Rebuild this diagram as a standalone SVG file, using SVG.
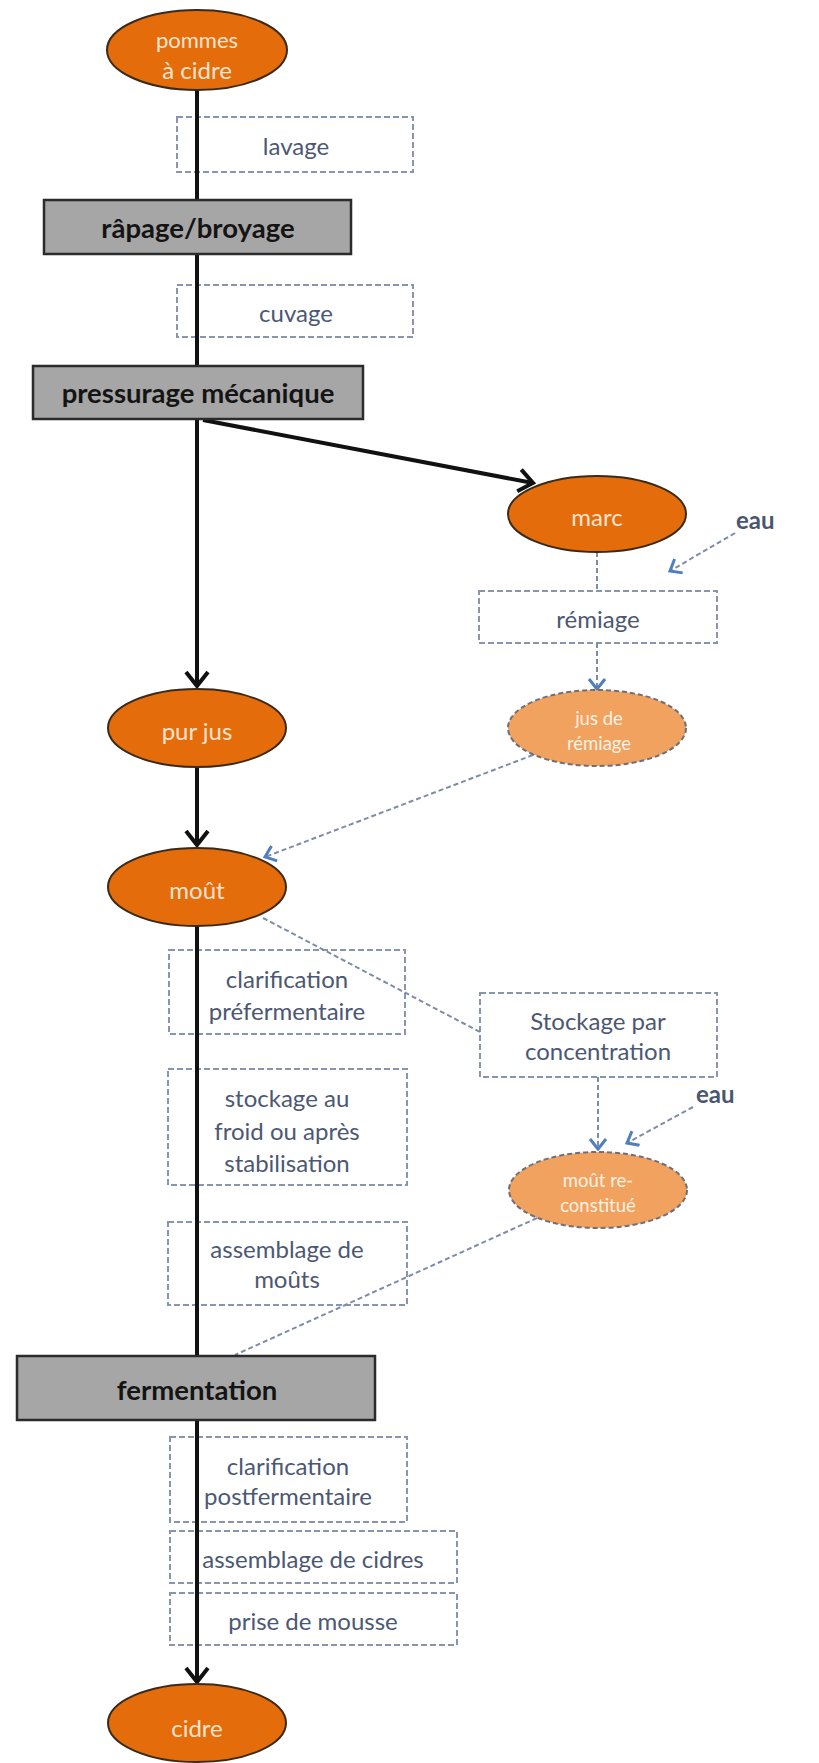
<svg xmlns="http://www.w3.org/2000/svg" width="819" height="1763" viewBox="0 0 819 1763">
<style>
.bg{fill:#ffffff}
.ell{fill:#E46C0A;stroke:#3a2a1a;stroke-width:2}
.ell-l{fill:#F1A25E;stroke:#6f6f7a;stroke-width:2;stroke-dasharray:5 3}
.step{fill:#A6A6A6;stroke:#2b2b2b;stroke-width:2.5}
.op{fill:none;stroke:#8795B0;stroke-width:2;stroke-dasharray:6 3}
.t-ell{font-family:Lato,"Liberation Sans",sans-serif;font-size:24px;fill:#FCE4D0;text-anchor:middle}
.t-ell-s{font-family:Lato,"Liberation Sans",sans-serif;font-size:18.5px;fill:#FFF1E4;text-anchor:middle}
.t-step{font-family:Lato,"Liberation Sans",sans-serif;font-size:27.5px;font-weight:bold;fill:#141414;text-anchor:middle}
.t-op{font-family:Lato,"Liberation Sans",sans-serif;font-size:24px;fill:#4C5873;text-anchor:middle}
.t-eau{font-family:Lato,"Liberation Sans",sans-serif;font-size:24px;font-weight:bold;fill:#4A5670}
.flow{fill:none;stroke:#111111;stroke-width:4}
.dash{fill:none;stroke:#7F8CA8;stroke-width:2;stroke-dasharray:5 3}
</style>
<defs>
<marker id="ab" markerUnits="userSpaceOnUse" markerWidth="30" markerHeight="30" refX="17" refY="14" orient="auto">
<path d="M3,3 L17,14 L3,25" fill="none" stroke="#111111" stroke-width="4"/>
</marker>
<marker id="ablue" markerUnits="userSpaceOnUse" markerWidth="20" markerHeight="20" refX="12" refY="9" orient="auto">
<path d="M2,1 L12,9 L2,17" fill="none" stroke="#4F7FBE" stroke-width="3"/>
</marker>
</defs>
<rect class="bg" x="0" y="0" width="819" height="1763"/>

<g id="operations">
<g id="lavage"><rect class="op" x="177" y="117" width="236" height="55"/><text class="t-op" x="296" y="155">lavage</text></g>
<g id="cuvage"><rect class="op" x="177" y="285" width="236" height="52"/><text class="t-op" x="296" y="322">cuvage</text></g>
<g id="remiage"><rect class="op" x="479" y="591" width="238" height="52"/><text class="t-op" x="598" y="628">rémiage</text></g>
<g id="clarif-pre"><rect class="op" x="169" y="950" width="236" height="84"/><text class="t-op" x="287" y="988">clarification</text><text class="t-op" x="287" y="1020">préfermentaire</text></g>
<g id="stockage-conc"><rect class="op" x="480" y="993" width="237" height="84"/><text class="t-op" x="598" y="1030">Stockage par</text><text class="t-op" x="598" y="1060">concentration</text></g>
<g id="stockage-froid"><rect class="op" x="168" y="1069" width="239" height="116"/><text class="t-op" x="287" y="1107">stockage au</text><text class="t-op" x="287" y="1140">froid ou après</text><text class="t-op" x="287" y="1172">stabilisation</text></g>
<g id="assemblage-mouts"><rect class="op" x="168" y="1222" width="239" height="83"/><text class="t-op" x="287" y="1258">assemblage de</text><text class="t-op" x="287" y="1288">moûts</text></g>
<g id="clarif-post"><rect class="op" x="170" y="1437" width="237" height="85"/><text class="t-op" x="288" y="1475">clarification</text><text class="t-op" x="288" y="1505">postfermentaire</text></g>
<g id="assemblage-cidres"><rect class="op" x="170" y="1531" width="287" height="52"/><text class="t-op" x="313" y="1568">assemblage de cidres</text></g>
<g id="prise-mousse"><rect class="op" x="170" y="1593" width="287" height="52"/><text class="t-op" x="313" y="1630">prise de mousse</text></g>
</g>

<g id="connectors">
<line class="flow" x1="197" y1="90" x2="197" y2="201"/>
<line class="flow" x1="197" y1="253" x2="197" y2="367"/>
<line class="flow" x1="197" y1="418" x2="197" y2="686" marker-end="url(#ab)"/>
<line class="flow" x1="203" y1="420" x2="533" y2="483" marker-end="url(#ab)"/>
<line class="flow" x1="197" y1="767" x2="197" y2="845" marker-end="url(#ab)"/>
<line class="flow" x1="197" y1="926" x2="197" y2="1357"/>
<line class="flow" x1="197" y1="1419" x2="197" y2="1682" marker-end="url(#ab)"/>
<line class="dash" x1="597" y1="552" x2="597" y2="591"/>
<line class="dash" x1="597" y1="643" x2="597" y2="689" marker-end="url(#ablue)"/>
<line class="dash" x1="735" y1="533" x2="670" y2="571" marker-end="url(#ablue)"/>
<line class="dash" x1="533" y1="755" x2="265" y2="857" marker-end="url(#ablue)"/>
<line class="dash" x1="263" y1="918" x2="480" y2="1032"/>
<line class="dash" x1="598" y1="1077" x2="598" y2="1149" marker-end="url(#ablue)"/>
<line class="dash" x1="693" y1="1107" x2="627" y2="1143" marker-end="url(#ablue)"/>
<line class="dash" x1="537" y1="1218" x2="235" y2="1355"/>
</g>

<g id="pommes"><ellipse class="ell" cx="197" cy="50" rx="90" ry="40"/><text class="t-ell" x="197" y="48" style="font-size:22px">pommes</text><text class="t-ell" x="197" y="79">à cidre</text></g>
<g id="rapage"><rect class="step" x="44" y="200" width="307" height="54"/><text class="t-step" x="198" y="238">râpage/broyage</text></g>
<g id="pressurage"><rect class="step" x="33" y="366" width="330" height="53"/><text class="t-step" x="198" y="403">pressurage mécanique</text></g>
<g id="marc"><ellipse class="ell" cx="597" cy="514" rx="89" ry="38"/><text class="t-ell" x="597" y="526">marc</text></g>
<g id="eau1"><text class="t-eau" x="736" y="529">eau</text></g>
<g id="jus-remiage"><ellipse class="ell-l" cx="597" cy="728" rx="89" ry="38"/><text class="t-ell-s" x="599" y="725">jus de</text><text class="t-ell-s" x="599" y="750">rémiage</text></g>
<g id="pur-jus"><ellipse class="ell" cx="197" cy="728" rx="89" ry="39"/><text class="t-ell" x="197" y="740">pur jus</text></g>
<g id="mout"><ellipse class="ell" cx="197" cy="887" rx="89" ry="39"/><text class="t-ell" x="197" y="899">moût</text></g>
<g id="eau2"><text class="t-eau" x="696" y="1103">eau</text></g>
<g id="mout-reconstitue"><ellipse class="ell-l" cx="598" cy="1190" rx="89" ry="38"/><text class="t-ell-s" x="598" y="1187">moût re-</text><text class="t-ell-s" x="598" y="1212">constitué</text></g>
<g id="fermentation"><rect class="step" x="17" y="1356" width="358" height="64"/><text class="t-step" x="197" y="1400">fermentation</text></g>
<g id="cidre"><ellipse class="ell" cx="197" cy="1723" rx="89" ry="39"/><text class="t-ell" x="197" y="1737">cidre</text></g>
</svg>
